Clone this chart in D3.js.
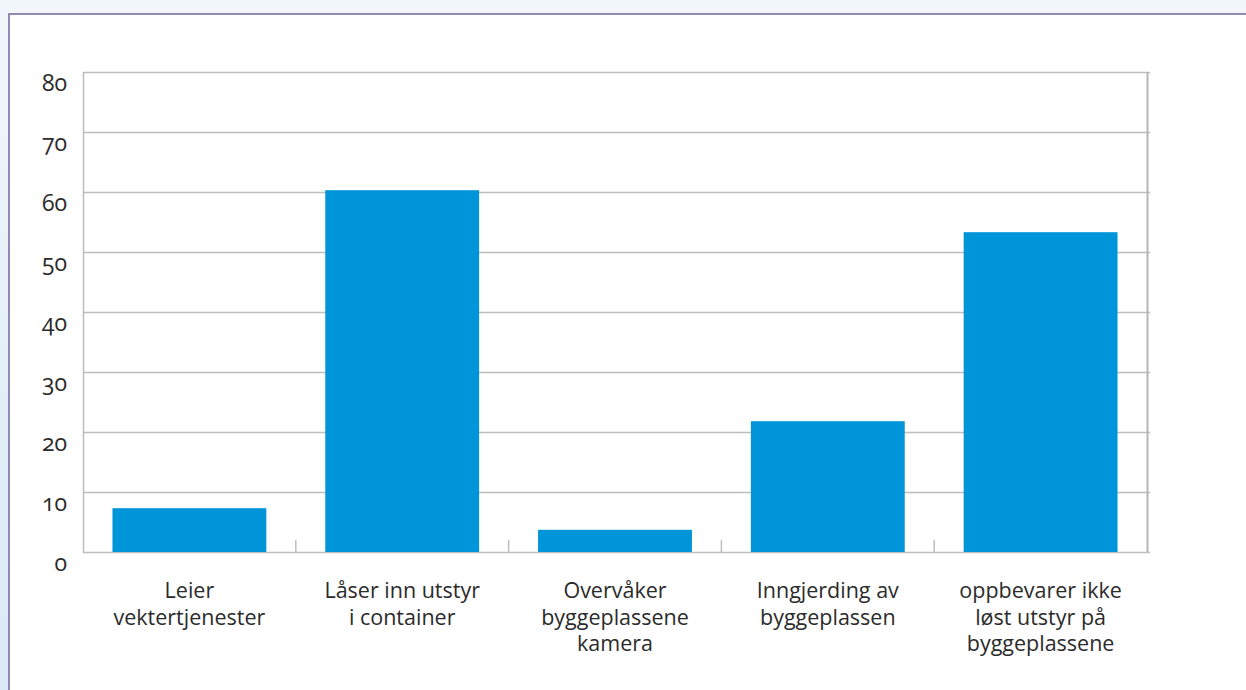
<!DOCTYPE html>
<html>
<head>
<meta charset="utf-8">
<script src="https://cdn.jsdelivr.net/npm/d3@7"></script>
<style>
  body { margin: 0; background: #f1f6fb; }
  svg { display: block; }
  text { font-family: "Open Sans", "Noto Sans", sans-serif; fill: #2b2b2b; font-variant-numeric: oldstyle-nums; }
</style>
</head>
<body>
<svg id="chart" width="1246" height="690"></svg>
<script>
let categories = [
  ["Leier", "vektertjenester"],
  ["Låser inn utstyr", "i container"],
  ["Overvåker", "byggeplassene", "kamera"],
  ["Inngjerding av", "byggeplassen"],
  ["oppbevarer ikke", "løst utstyr på", "byggeplassene"]
]
let values = [7.3, 60.3, 3.7, 21.8, 53.3]
let yTicks = [0, 10, 20, 30, 40, 50, 60, 70, 80]

let svg = d3.select("#chart")
let margin = { top: 72, right: 99, bottom: 138, left: 83 }
let width = 1246, height = 690

// faint blue strip at the left edge
let grad = svg.append("defs").append("linearGradient")
  .attr("id", "strip").attr("x1", 0).attr("y1", 0).attr("x2", 0).attr("y2", 1)
grad.append("stop").attr("offset", "0%").attr("stop-color", "#f1f6fb")
grad.append("stop").attr("offset", "100%").attr("stop-color", "#d9e9f6")
svg.append("rect")
  .attr("x", 0).attr("y", 14)
  .attr("width", 9).attr("height", 676)
  .style("fill", "url(#strip)")

// panel
svg.append("rect")
  .attr("x", 9).attr("y", 14)
  .attr("width", 1246).attr("height", 700)
  .style("fill", "#fff")
  .style("stroke", "#8e8ab2")
  .style("stroke-width", 2)

let x = d3.scaleBand()
  .domain(d3.range(categories.length))
  .range([margin.left, width - margin.right])
  .paddingInner(0.277)
  .paddingOuter(0.1385)

let y = d3.scaleLinear()
  .domain([0, 80])
  .range([height - margin.bottom, margin.top])

// grid lines
svg.append("g")
  .selectAll("line")
  .data(yTicks)
  .enter()
  .append("line")
    .attr("x1", margin.left)
    .attr("x2", width - margin.right + 3)
    .attr("y1", d => y(d) + 0.5)
    .attr("y2", d => y(d) + 0.5)
    .style("stroke", "#bdbdbd")
    .style("stroke-width", 1.5)

// frame sides
svg.append("line")
  .attr("x1", margin.left + 0.5).attr("x2", margin.left + 0.5)
  .attr("y1", y(80)).attr("y2", y(0))
  .style("stroke", "#bdbdbd").style("stroke-width", 1.5)
svg.append("line")
  .attr("x1", width - margin.right + 0.5).attr("x2", width - margin.right + 0.5)
  .attr("y1", y(80)).attr("y2", y(0))
  .style("stroke", "#b5b5b5").style("stroke-width", 2)

// category separators
let step = x.step()
svg.append("g")
  .selectAll("line")
  .data(d3.range(1, categories.length))
  .enter()
  .append("line")
    .attr("x1", d => margin.left + d * step)
    .attr("x2", d => margin.left + d * step)
    .attr("y1", y(0) - 12)
    .attr("y2", y(0))
    .style("stroke", "#bdbdbd")
    .style("stroke-width", 1.5)

// bars
svg.append("g")
  .selectAll("rect")
  .data(values)
  .enter()
  .append("rect")
    .attr("x", (d, i) => x(i))
    .attr("y", d => y(d))
    .attr("width", x.bandwidth())
    .attr("height", d => y(0) - y(d))
    .style("fill", "#0095d9")

// y labels
svg.append("g")
  .selectAll("text")
  .data(yTicks)
  .enter()
  .append("text")
    .attr("text-anchor", "end")
    .attr("x", 67)
    .attr("y", d => y(d) + 19)
    .text(d => d)
    .style("font-size", "23px")

// x labels
let labels = svg.append("g")
  .selectAll("text")
  .data(categories)
  .enter()
  .append("text")
    .attr("text-anchor", "middle")
    .attr("x", (d, i) => x(i) + x.bandwidth() / 2)
    .attr("y", 598)
    .style("font-size", "21.5px")

labels.selectAll("tspan")
  .data(d => d)
  .enter()
  .append("tspan")
    .attr("x", function () { return d3.select(this.parentNode).attr("x") })
    .attr("dy", (d, i) => i === 0 ? 0 : 26.5)
    .text(d => d)
</script>
</body>
</html>
